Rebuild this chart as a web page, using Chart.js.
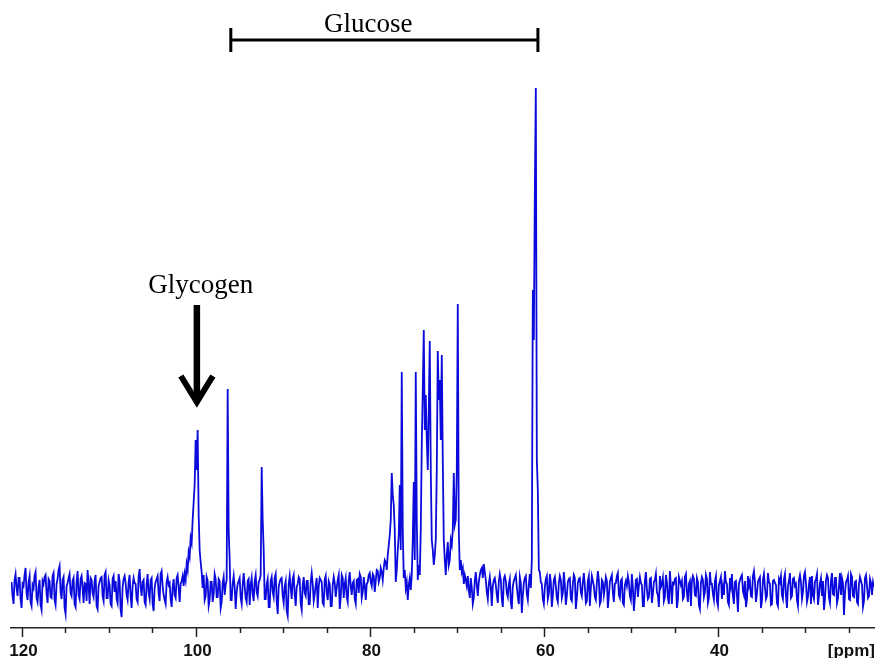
<!DOCTYPE html>
<html>
<head>
<meta charset="utf-8">
<script src="https://cdn.jsdelivr.net/npm/chart.js@4/dist/chart.umd.min.js"></script>
<style>
  html, body { margin: 0; padding: 0; background: #fff; }
  canvas { display: block; }
</style>
</head>
<body>
<canvas id="spectrum" width="877" height="658"></canvas>
<script>
// 13C spectrum, one sample every 0.115 ppm starting at 121.2 ppm
var ppmFirst = 121.2;
var ppmStep = 0.115;
var intensity = [
  8, -6, -14, 10, 16, 2, -6, 12, 12, -9, -18, 6, 4, 15, 22, -3, -10, 8, 14, -12,
  -16, 5, 2, 14, 18, -8, -12, 3, 10, -15, -20, 9, 6, 13, 15, -4, -13, 11, 9, -7,
  -8, 14, 17, -10, -15, 6, 11, 20, 24, -2, -9, 10, 13, -18, -24, 4, 7, 12, 16, -3,
  -6, 9, 12, -14, -17, 8, 19, -5, -9, 11, 14, 2, -13, 7, 6, -11, 20, 5, -14, 12,
  10, -3, -7, 9, 15, -16, -19, 4, 8, 12, 13, -6, -11, 15, 18, -8, -8, 10, 5, -14,
  -16, 11, 14, -2, 9, -9, -13, 16, 9, -20, -27, 3, 11, 14, 7, -5, -10, 8, 15, -6,
  -18, 4, 12, 7, 6, -9, -12, 13, 21, 3, -6, 8, 10, -12, -15, 6, 16, -3, -9, 10,
  12, -14, -21, 2, 8, 11, 14, -4, -11, 16, 19, 4, -5, -10, -14, 8, 13, 5, 7, -9,
  -17, 3, 11, -5, -8, 12, 15, 2, -12, 6, 9, 14, 4, 16, 10, 26, 20, 38, 33, 52,
  47, 70, 88, 105, 150, 120, 160, 75, 40, 28, 18, 2, 15, -10, -6, 13, 9, -16, -10, 8,
  8, -12, -4, 16, 11, -7, -7, 11, 9, -18, -12, 7, 13, -5, 5, 10, 201, 60, 30, -10,
  -10, 6, 14, 3, -19, -2, 6, 9, 12, -8, -14, 5, 17, 4, -8, -12, 9, 11, -15, 5,
  12, -4, -11, 9, 15, -2, -6, 8, 10, 15, 123, 70, 40, -9, -9, 6, 11, -17, -17, 9,
  13, -2, -7, 12, 16, -11, -24, 3, 8, 11, 12, -6, -13, 4, 9, -21, -26, 6, 14, 2,
  -9, 11, 15, -5, -16, 3, 6, 13, 11, -14, -20, 5, 13, -3, -6, 9, 9, -14, -14, 8,
  17, 6, -11, -4, 5, 12, -18, 3, 12, 10, 8, -13, -15, 10, 14, -3, -10, 9, 6, -16,
  -16, 5, 13, 7, -7, 2, 10, 15, -19, -8, 15, 12, -8, 6, 12, -7, -12, 10, 18, 4,
  -5, 7, 9, -9, -14, 10, 11, -3, 16, 13, -8, -2, 13, 4, -10, 6, 8, 15, 17, 8,
  4, 16, 14, -2, 9, 20, 19, 8, 12, 22, 18, 10, 22, 30, 28, 20, 35, 45, 55, 70,
  117, 95, 85, 60, 8, 20, 40, 55, 105, 40, 218, 60, 12, 20, 2, 8, -10, 5, 12, 0,
  15, 50, 108, 30, 218, 70, 10, 25, 15, 60, 145, 200, 260, 160, 195, 150, 120, 180, 249, 120,
  50, 40, 25, 35, 50, 120, 239, 190, 210, 150, 235, 130, 50, 30, 15, 35, 48, 25, 30, 50,
  45, 60, 117, 65, 70, 120, 286, 60, 20, 30, 18, 22, 6, 15, 10, 4, 14, 0, -8, 12,
  2, -14, -8, 9, 18, 5, -6, 8, 15, 20, 22, 12, 26, 18, 10, -2, -9, 6, 13, 3,
  -16, 4, 10, 12, 5, -5, -13, 8, 16, 10, -9, -17, 11, 14, 9, -3, -7, 6, 11, -12,
  -19, 4, 9, 12, 15, 3, -7, -14, 13, 7, -23, -6, 7, 12, 14, -4, -10, 5, 16, 2,
  30, 300, 250, 397, 502, 130, 100, 20, 18, 8, 6, -9, -14, 3, 11, 14, -9, -4, 16, 8,
  -17, -5, 10, 13, 4, -8, -12, 7, 14, 10, -8, -3, 18, 5, -15, -6, 8, 11, 12, -9,
  -11, 6, 15, 12, -19, -8, 7, 11, 12, -2, -6, 8, 17, 4, -13, -11, 9, 14, -16, 2,
  14, 9, 4, -7, -10, 7, 19, 10, -14, -11, 10, 8, -5, 3, 13, 9, -18, -6, 8, 12,
  15, -3, -12, 6, 7, 14, 17, -5, -8, 9, 11, -13, -15, 5, 9, 4, 14, 8, -6, -10,
  16, 2, -21, -7, 10, 11, -7, 4, 13, 7, 5, -16, -16, 9, 18, 1, -9, -7, 11, 12,
  -13, -4, 8, 10, 16, -2, -5, -17, 14, 3, 6, 12, -11, -7, 15, 8, -8, -14, 19, 4,
  -14, 7, 6, 11, 12, -18, -10, 13, 9, 5, 9, -9, -7, 13, 16, -3, -12, 6, 9, -16,
  9, 14, 11, -5, -6, 12, 8, -15, -19, 7, 13, 10, -7, -2, 15, 11, -13, -8, 18, 6,
  6, -4, -10, 9, 14, -11, -16, 5, 9, 13, -9, 3, -5, 19, 8, 6, -12, -15, 12, 4,
  16, -6, -14, 8, 9, -5, -22, 6, 10, 13, 15, -1, -5, 9, -17, -10, 14, 4, 9, -6,
  -7, 14, 19, 9, -12, -4, 8, 11, 13, -18, -11, 10, 16, 3, -9, -6, 17, 8, 6, -15,
  -14, 9, 10, 7, 5, -13, -16, 11, 8, 14, -5, -9, 11, 16, -6, -18, 4, 9, 17, -8,
  -6, 11, 12, 4, 6, -10, -16, 10, 15, 8, -9, -2, 14, 18, 7, -12, -7, 6, 13, -14,
  14, -5, -9, 8, 11, 16, -15, -6, 7, 12, -6, 9, -20, -9, 10, 15, 12, -8, -13, 9,
  17, -4, -5, 12, 12, -13, -8, 4, 17, -5, 12, 7, -25, -3, 8, 10, 14, -9, -10, 16,
  13, -6, -7, 8, 9, -12, -14, 6, 13, 9, 5, -17, -11, 12, 15, 4, -8, -6, 11, 7,
  -5, 8, 3
];

var tickValues = [25, 30, 35, 40, 45, 50, 55, 60, 65, 70, 75, 80, 85, 90, 95, 100, 105, 110, 115, 120];
var labeledTicks = [120, 100, 80, 60, 40];
var axisUnit = '[ppm]';

var glucoseRange = [96.0, 60.7];
var glucoseText = 'Glucose';
var glycogenText = 'Glycogen';
var glycogenPpm = 99.9;

var points = intensity.map(function (v, i) {
    return { x: +(ppmFirst - i * ppmStep).toFixed(4), y: v };
});

var serif = "'Liberation Serif', 'Times New Roman', serif";
var sans = "'Liberation Sans', Arial, sans-serif";

var annotate = {
    id: 'annotate',
    afterDraw: function (chart) {
        var ctx = chart.ctx;
        var xs = chart.scales.x, ys = chart.scales.y;
        var bottom = chart.chartArea.bottom;
        ctx.save();

        // tick marks and labels, long marks where a label sits
        ctx.strokeStyle = '#222';
        ctx.fillStyle = '#111';
        ctx.lineWidth = 1.5;
        ctx.font = 'bold 17px ' + sans;
        ctx.textAlign = 'center';
        ctx.textBaseline = 'alphabetic';
        tickValues.forEach(function (v) {
            var px = Math.round(xs.getPixelForValue(v)) + 0.5;
            var major = labeledTicks.indexOf(v) >= 0;
            ctx.beginPath();
            ctx.moveTo(px, bottom);
            ctx.lineTo(px, bottom + (major ? 9 : 5));
            ctx.stroke();
            if (major) ctx.fillText(String(v), px + 1, 656);
        });
        ctx.textAlign = 'right';
        ctx.fillText(axisUnit, chart.width - 2, 656);

        // glucose bracket
        var x0 = xs.getPixelForValue(glucoseRange[0]);
        var x1 = xs.getPixelForValue(glucoseRange[1]);
        var yb = ys.getPixelForValue(550);
        ctx.strokeStyle = '#000';
        ctx.lineWidth = 3;
        ctx.beginPath();
        ctx.moveTo(x0, yb); ctx.lineTo(x1, yb);
        ctx.moveTo(x0, yb - 12); ctx.lineTo(x0, yb + 12);
        ctx.moveTo(x1, yb - 12); ctx.lineTo(x1, yb + 12);
        ctx.stroke();

        ctx.fillStyle = '#000';
        ctx.font = '27px ' + serif;
        ctx.textAlign = 'center';
        ctx.fillText(glucoseText, xs.getPixelForValue(80.2), ys.getPixelForValue(558));

        // glycogen label and arrow
        ctx.fillText(glycogenText, xs.getPixelForValue(99.45), ys.getPixelForValue(297));
        var ax = xs.getPixelForValue(glycogenPpm);
        var tip = ys.getPixelForValue(188);
        ctx.lineWidth = 6.5;
        ctx.beginPath();
        ctx.moveTo(ax, ys.getPixelForValue(285));
        ctx.lineTo(ax, tip - 2);
        ctx.stroke();
        ctx.lineWidth = 6;
        ctx.lineJoin = 'miter';
        ctx.beginPath();
        ctx.moveTo(ax - 16, tip - 26);
        ctx.lineTo(ax, tip);
        ctx.lineTo(ax + 16, tip - 26);
        ctx.stroke();

        ctx.restore();
    }
};

var chart = new Chart(document.getElementById('spectrum').getContext('2d'), {
    type: 'line',
    data: {
        datasets: [{
            data: points,
            borderColor: '#0a0adc',
            borderWidth: 1.8,
            pointRadius: 0,
            tension: 0,
            fill: false
        }]
    },
    options: {
        responsive: false,
        animation: false,
        parsing: false,
        events: [],
        layout: { padding: { left: 11, right: 3, top: 80, bottom: 22 } },
        plugins: { legend: { display: false }, tooltip: { enabled: false } },
        scales: {
            x: {
                type: 'linear',
                reverse: true,
                min: 22.07,
                max: 121.264,
                grid: { display: false },
                border: { display: true, color: '#222', width: 1.5 },
                ticks: { display: false }
            },
            y: { display: false, min: -38, max: 510 }
        }
    },
    plugins: [annotate]
});
</script>
</body>
</html>
